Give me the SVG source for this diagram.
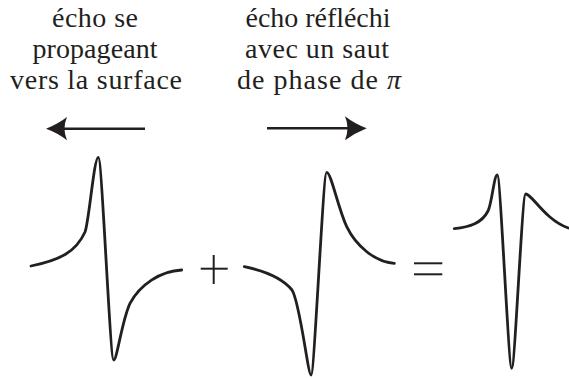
<svg xmlns="http://www.w3.org/2000/svg" width="569" height="378" viewBox="0 0 569 378">
<style>
.lbl{font-family:"Liberation Serif","DejaVu Serif",serif;font-size:28px;fill:#231f20;text-anchor:middle}
.wave{fill:none;stroke:#231f20;stroke-width:2.8;stroke-linecap:round;stroke-linejoin:round}
.op{fill:none;stroke:#231f20;stroke-width:2}
.arr{fill:none;stroke:#231f20;stroke-width:2.6}
.head{fill:#231f20}
</style>
<rect width="569" height="378" fill="#ffffff"/>
<g id="label-left">
<text class="lbl" x="95" y="27" textLength="86" lengthAdjust="spacing">écho se</text>
<text class="lbl" x="95" y="58" textLength="125" lengthAdjust="spacing">propageant</text>
<text class="lbl" x="96" y="89" textLength="172" lengthAdjust="spacing">vers la surface</text>
</g>
<g id="label-right">
<text class="lbl" x="318" y="27" textLength="145" lengthAdjust="spacing">écho réfléchi</text>
<text class="lbl" x="317" y="58" textLength="144" lengthAdjust="spacing">avec un saut</text>
<text class="lbl" x="319" y="89" textLength="164" lengthAdjust="spacing">de phase de <tspan font-style="italic">π</tspan></text>
</g>
<g id="connectors">
<g id="arrow-left">
<line class="arr" x1="145" y1="128.7" x2="62" y2="128.7"/>
<path class="head" d="M46,128.7 Q58,124 67,117 Q62,128.7 67,140.3 Q58,133 46,128.7 Z"/>
</g>
<g id="arrow-right">
<line class="arr" x1="267" y1="128.3" x2="350" y2="128.3"/>
<path class="head" d="M366.7,128.3 Q355,124 345,116.3 Q350,128.3 345,140.3 Q355,133 366.7,128.3 Z"/>
</g>
</g>
<g id="wave-incident">
<path class="wave" d="M31,266 C60,260 76,252 85,232 C89,222 94,157.3 98.3,157.3 C102,157.3 110,360 113.7,360 C117,360 122,320 130,303.3 C140,285 160,271 181.7,270"/>
</g>
<g id="plus">
<line class="op" x1="200.7" y1="268.7" x2="227.7" y2="268.7"/>
<line class="op" x1="213.7" y1="255" x2="213.7" y2="284"/>
</g>
<g id="wave-reflected">
<path class="wave" d="M244.3,266.7 C265,271 283,279 292,290 C300,302 308,375 311,375 C314.5,375 323,172.3 326.7,172.3 C331,172.3 338,208 346.7,226.7 C356,246 375,262 394.3,263.3"/>
</g>
<g id="equals">
<line class="op" x1="414" y1="263.3" x2="442.3" y2="263.3"/>
<line class="op" x1="414" y1="274.3" x2="442.3" y2="274.3"/>
</g>
<g id="wave-sum">
<path class="wave" d="M454.3,228.7 C470,227 482,223 488,211 C492,203 494,175 497.3,175 C500.5,175 508.5,368.3 511.7,368.3 C515,368.3 522,194 525.7,194 C532,194 545,220 568.3,228"/>
</g>
</svg>
